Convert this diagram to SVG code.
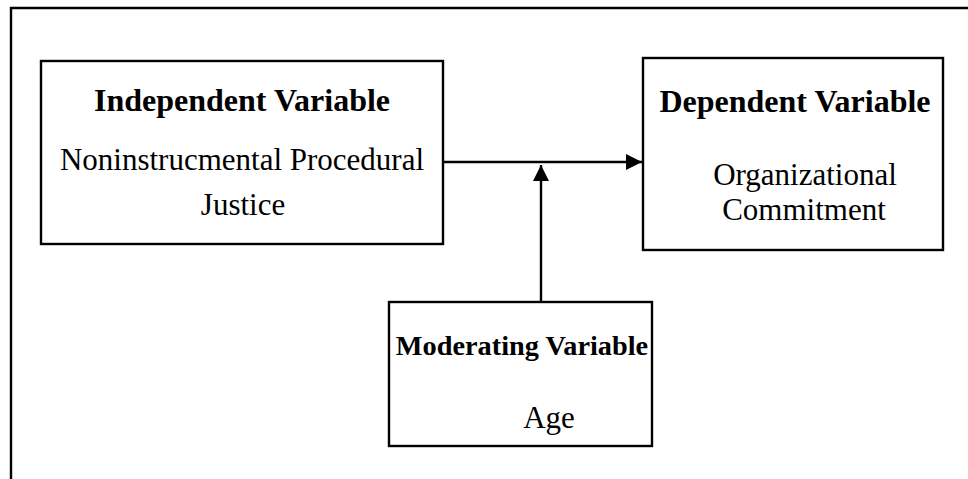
<svg xmlns="http://www.w3.org/2000/svg" width="968" height="479" viewBox="0 0 968 479">
  <style>
    .box { fill: #fff; stroke: #000; stroke-width: 2.4; }
    .frame { fill: none; stroke: #000; stroke-width: 2.4; }
    .link { fill: none; stroke: #000; stroke-width: 2.4; }
    .title { font-family: "Liberation Serif", "Times New Roman", serif; font-size: 32px; font-weight: bold; fill: #000; text-anchor: middle; }
    .label { font-family: "Liberation Serif", "Times New Roman", serif; font-size: 31px; fill: #000; text-anchor: middle; }
  </style>
  <defs>
    <marker id="head" viewBox="0 0 16 16" refX="16" refY="8" markerWidth="16" markerHeight="16" markerUnits="userSpaceOnUse" orient="auto">
      <path d="M0,0 L16,8 L0,16 Z" fill="#000"/>
    </marker>
  </defs>
  <rect width="968" height="479" fill="#fff"/>
  <!-- outer frame: top and left edges only -->
  <path class="frame" d="M11,479 L11,8 L968,8"/>

  <g id="connectors">
    <line class="link" x1="443" y1="162" x2="642" y2="162" marker-end="url(#head)"/>
    <line class="link" x1="541" y1="302" x2="541" y2="165" marker-end="url(#head)"/>
  </g>

  <g id="independent">
    <rect class="box" x="41" y="61" width="402" height="183"/>
    <text class="title" x="242" y="111">Independent Variable</text>
    <text class="label" x="242" y="170">Noninstrucmental Procedural</text>
    <text class="label" x="243" y="215">Justice</text>
  </g>

  <g id="dependent">
    <rect class="box" x="643" y="58" width="300" height="192"/>
    <text class="title" x="795" y="112" font-size="32.5">Dependent Variable</text>
    <text class="label" x="805" y="185">Organizational</text>
    <text class="label" x="804" y="220">Commitment</text>
  </g>

  <g id="moderating">
    <rect class="box" x="389" y="302" width="263" height="144"/>
    <text class="title" x="522" y="355" style="font-size:28.3px">Moderating Variable</text>
    <text class="label" x="549" y="428">Age</text>
  </g>
</svg>
